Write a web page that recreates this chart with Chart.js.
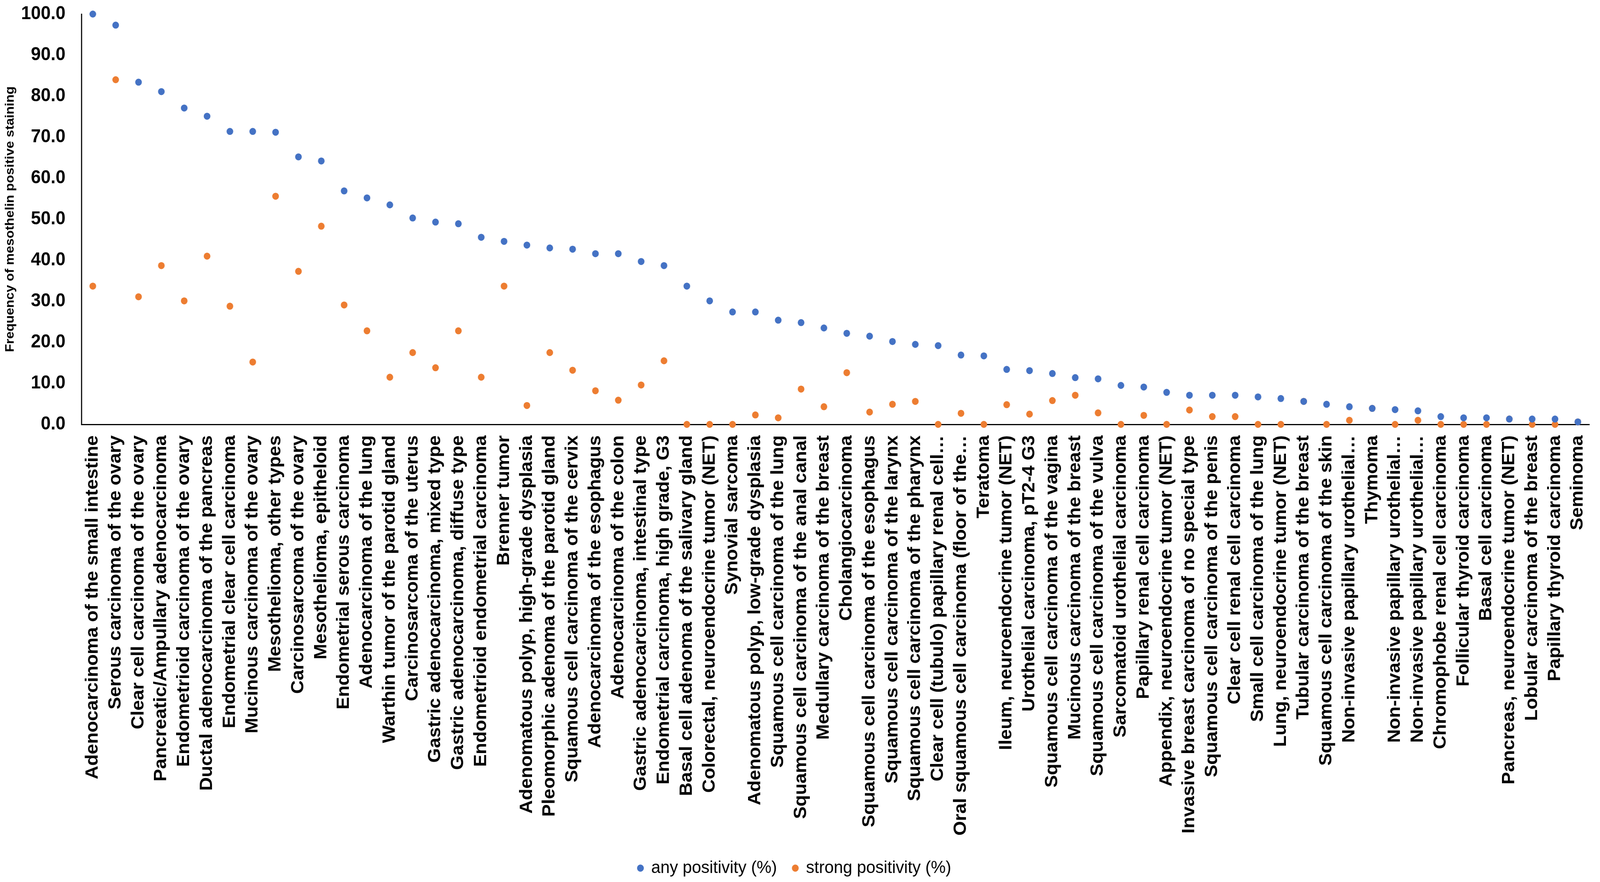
<!DOCTYPE html>
<html>
<head>
<meta charset="utf-8">
<title>Mesothelin staining frequency</title>
<script src="https://cdn.jsdelivr.net/npm/chart.js@4.4.1/dist/chart.umd.min.js"></script>
<style>
  html, body { margin: 0; padding: 0; background: #fff; overflow: hidden; }
  #stainChart { position: absolute; left: 0; top: 0; transform-origin: 0 0; }
</style>
</head>
<body>
<canvas id="stainChart" width="4325" height="2257"></canvas>
<script>
'use strict';

const W = 4325;
const H = 2257;

const categories = [
    'Adenocarcinoma of the small intestine', 'Serous carcinoma of the ovary',
    'Clear cell carcinoma of the ovary', 'Pancreatic/Ampullary adenocarcinoma',
    'Endometrioid carcinoma of the ovary', 'Ductal adenocarcinoma of the pancreas',
    'Endometrial clear cell carcinoma', 'Mucinous carcinoma of the ovary',
    'Mesothelioma, other types', 'Carcinosarcoma of the ovary',
    'Mesothelioma, epitheloid', 'Endometrial serous carcinoma',
    'Adenocarcinoma of the lung', 'Warthin tumor of the parotid gland',
    'Carcinosarcoma of the uterus', 'Gastric adenocarcinoma, mixed type',
    'Gastric adenocarcinoma, diffuse type', 'Endometrioid endometrial carcinoma',
    'Brenner tumor', 'Adenomatous polyp, high-grade dysplasia',
    'Pleomorphic adenoma of the parotid gland', 'Squamous cell carcinoma of the cervix',
    'Adenocarcinoma of the esophagus', 'Adenocarcinoma of the colon',
    'Gastric adenocarcinoma, intestinal type', 'Endometrial carcinoma, high grade, G3',
    'Basal cell adenoma of the salivary gland', 'Colorectal, neuroendocrine tumor (NET)',
    'Synovial sarcoma', 'Adenomatous polyp, low-grade dysplasia',
    'Squamous cell carcinoma of the lung', 'Squamous cell carcinoma of the anal canal',
    'Medullary carcinoma of the breast', 'Cholangiocarcinoma',
    'Squamous cell carcinoma of the esophagus', 'Squamous cell carcinoma of the larynx',
    'Squamous cell carcinoma of the pharynx', 'Clear cell (tubulo) papillary renal cell\u2026',
    'Oral squamous cell carcinoma (floor of the\u2026', 'Teratoma',
    'Ileum, neuroendocrine tumor (NET)', 'Urothelial carcinoma, pT2-4 G3',
    'Squamous cell carcinoma of the vagina', 'Mucinous carcinoma of the breast',
    'Squamous cell carcinoma of the vulva', 'Sarcomatoid urothelial carcinoma',
    'Papillary renal cell carcinoma', 'Appendix, neuroendocrine tumor (NET)',
    'Invasive breast carcinoma of no special type', 'Squamous cell carcinoma of the penis',
    'Clear cell renal cell carcinoma', 'Small cell carcinoma of the lung',
    'Lung, neuroendocrine tumor (NET)', 'Tubular carcinoma of the breast',
    'Squamous cell carcinoma of the skin', 'Non-invasive papillary urothelial\u2026',
    'Thymoma', 'Non-invasive papillary urothelial\u2026',
    'Non-invasive papillary urothelial\u2026', 'Chromophobe renal cell carcinoma',
    'Follicular thyroid carcinoma', 'Basal cell carcinoma',
    'Pancreas, neuroendocrine tumor (NET)', 'Lobular carcinoma of the breast',
    'Papillary thyroid carcinoma', 'Seminoma'
];

const anyPositivity = [
    100.0, 97.3, 83.4, 81.1, 77.1, 75.1, 71.4, 71.4, 71.2, 65.2,
    64.2, 56.9, 55.2, 53.5, 50.3, 49.3, 48.9, 45.6, 44.6, 43.7,
    43.0, 42.7, 41.6, 41.6, 39.7, 38.7, 33.7, 30.1, 27.4, 27.4,
    25.4, 24.8, 23.5, 22.2, 21.5, 20.2, 19.5, 19.2, 16.9, 16.7,
    13.4, 13.1, 12.4, 11.4, 11.1, 9.5, 9.1, 7.8, 7.1, 7.1,
    7.1, 6.7, 6.3, 5.6, 4.9, 4.3, 3.9, 3.6, 3.3, 1.9,
    1.6, 1.6, 1.3, 1.3, 1.3, 0.6
];

const strongPositivity = [
    33.7, 84.0, 31.1, 38.7, 30.1, 41.0, 28.8, 15.2, 55.6, 37.3,
    48.3, 29.1, 22.8, 11.5, 17.5, 13.8, 22.8, 11.5, 33.7, 4.6,
    17.5, 13.2, 8.2, 5.9, 9.6, 15.5, 0.0, 0.0, 0.0, 2.3,
    1.6, 8.6, 4.3, 12.6, 3.0, 4.9, 5.6, 0.0, 2.7, 0.0,
    4.8, 2.5, 5.8, 7.1, 2.8, 0.0, 2.2, 0.0, 3.5, 1.9,
    1.9, 0.0, 0.0, 5.6, 0.0, 1.0, 3.9, 0.0, 1.0, 0.0,
    0.0, 0.0, 1.3, 0.0, 0.0, 0.6
];

const seriesNames = ['any positivity (%)', 'strong positivity (%)'];
const yTicks = [0, 10, 20, 30, 40, 50, 60, 70, 80, 90, 100];

const FONT = "'Liberation Sans', Arial, sans-serif";
const blue = '#4472C4';
const orange = '#ED7D31';

// the browser window may be smaller than the target picture, so scale the canvas to fit it
const canvas = document.getElementById('stainChart');
canvas.style.transform = 'scale(' + (window.innerWidth / W) + ',' + (window.innerHeight / H) + ')';

function dotSeries(label, values, color) {
    return {
        label: label,
        data: values,
        showLine: false,
        pointRadius: 9,
        pointHoverRadius: 9,
        pointBackgroundColor: color,
        pointBorderWidth: 0,
        backgroundColor: color,
        borderColor: color,
        clip: false
    };
}

new Chart(canvas, {
    type: 'line',
    data: {
        labels: categories,
        datasets: [
            dotSeries(seriesNames[0], anyPositivity, blue),
            dotSeries(seriesNames[1], strongPositivity, orange)
        ]
    },
    options: {
        responsive: false,
        devicePixelRatio: 1,
        animation: false,
        layout: {
            padding: { left: 0, top: 36, right: 29, bottom: 3 }
        },
        plugins: {
            legend: {
                position: 'bottom',
                labels: {
                    usePointStyle: true,
                    pointStyle: 'circle',
                    boxWidth: 13,
                    boxHeight: 13,
                    padding: 43,
                    color: '#000',
                    font: { family: FONT, size: 45 }
                }
            },
            tooltip: { enabled: false }
        },
        scales: {
            x: {
                offset: true,
                afterFit: function(scale) {
                    scale.height = 1070;
                    scale.paddingLeft = 0;
                    scale.paddingRight = 0;
                },
                grid: { display: false, drawTicks: false },
                border: { display: true, color: '#000', width: 3 },
                ticks: {
                    autoSkip: false,
                    maxRotation: 90,
                    minRotation: 90,
                    padding: 28,
                    color: '#000',
                    font: { family: FONT, size: 48, weight: 'bold' }
                }
            },
            y: {
                min: 0,
                max: 100,
                afterBuildTicks: function(scale) {
                    scale.ticks = yTicks.map(v => ({ value: v }));
                },
                afterFit: function(scale) {
                    scale.width = 220;
                    scale.paddingTop = 0;
                    scale.paddingBottom = 0;
                },
                grid: { display: false, drawTicks: false },
                border: { display: true, color: '#000', width: 3 },
                ticks: {
                    padding: 43,
                    color: '#000',
                    font: { family: FONT, size: 48, weight: 'bold' },
                    callback: function(value) {
                        return Number(value).toFixed(1);
                    }
                },
                title: {
                    display: true,
                    text: 'Frequency of mesothelin positive staining',
                    color: '#000',
                    padding: { top: 11, bottom: 0 },
                    font: { family: FONT, size: 34, weight: 'bold', lineHeight: 1.0 }
                }
            }
        }
    }
});
</script>
</body>
</html>
